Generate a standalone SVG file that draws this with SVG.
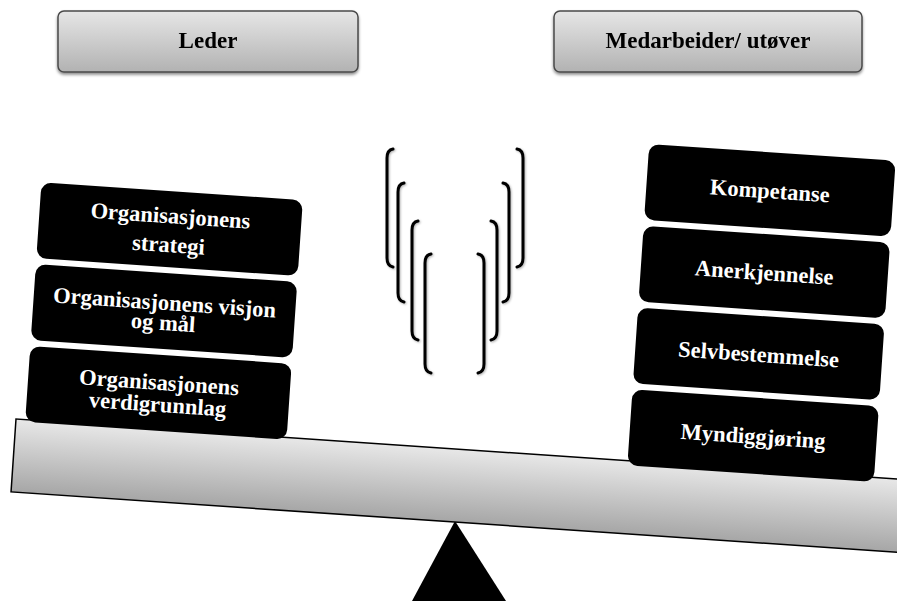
<svg xmlns="http://www.w3.org/2000/svg" width="897" height="601" viewBox="0 0 897 601">
  <defs>
    <linearGradient id="headGrad" x1="0" y1="0" x2="0" y2="1">
      <stop offset="0" stop-color="#e6e6e6"/>
      <stop offset="1" stop-color="#b2b2b2"/>
    </linearGradient>
    <linearGradient id="beamGrad" x1="0" y1="0" x2="0" y2="1">
      <stop offset="0" stop-color="#e8e8e8"/>
      <stop offset="1" stop-color="#a6a6a6"/>
    </linearGradient>
    <filter id="shadow" x="-10%" y="-20%" width="120%" height="150%">
      <feDropShadow dx="0" dy="2" stdDeviation="1.8" flood-color="#000" flood-opacity="0.45"/>
    </filter>
    <filter id="softShadow" x="-50%" y="-10%" width="200%" height="120%">
      <feDropShadow dx="1" dy="1" stdDeviation="1" flood-color="#000" flood-opacity="0.3"/>
    </filter>
  </defs>
  <style>
    .head { fill: url(#headGrad); stroke: #4a4a4a; stroke-width: 1.5; }
    .headText { font-family: "Liberation Serif", "Times New Roman", serif; font-weight: bold; font-size: 23px; fill: #000; text-anchor: middle; }
    .block { fill: #000; }
    .blockText { font-family: "Liberation Serif", "Times New Roman", serif; font-weight: bold; font-size: 22.5px; fill: #fff; text-anchor: middle; }
    .bracket { fill: none; stroke: #000; stroke-width: 3; stroke-linecap: round; }
  </style>

  <rect width="897" height="601" fill="#fff"/>

  <!-- fulcrum -->
  <polygon id="fulcrum" points="455,521 412,601 506,601" fill="#000"/>

  <!-- tilted beam -->
  <g id="beam" transform="rotate(3.9 16 419)">
    <rect x="16" y="419" width="910" height="73" fill="url(#beamGrad)" stroke="#000" stroke-width="1.5"/>
  </g>

  <!-- headers -->
  <g id="leder" filter="url(#shadow)">
    <rect class="head" x="58" y="11" width="300" height="61" rx="6"/>
    <text class="headText" x="208" y="48">Leder</text>
  </g>
  <g id="medarbeider" filter="url(#shadow)">
    <rect class="head" x="554" y="11" width="308" height="61" rx="6"/>
    <text class="headText" x="708" y="48">Medarbeider/ utøver</text>
  </g>

  <!-- left stack -->
  <g id="leftStack" transform="rotate(3.9 164 311)">
    <g id="strategi">
      <rect class="block" x="33" y="191" width="262" height="76" rx="10"/>
      <text class="blockText" x="164" y="223">Organisasjonens</text>
      <text class="blockText" x="164" y="252">strategi</text>
    </g>
    <g id="visjon">
      <rect class="block" x="33" y="273" width="262" height="76" rx="10"/>
      <text class="blockText" x="164" y="310">Organisasjonens visjon</text>
      <text class="blockText" x="164" y="330">og mål</text>
    </g>
    <g id="verdigrunnlag">
      <rect class="block" x="33" y="355" width="262" height="76" rx="10"/>
      <text class="blockText" x="164" y="390">Organisasjonens</text>
      <text class="blockText" x="164" y="412">verdigrunnlag</text>
    </g>
  </g>

  <!-- right stack -->
  <g id="rightStack" transform="rotate(3.9 761.5 313)">
    <g id="kompetanse">
      <rect class="block" x="638" y="152" width="247" height="76" rx="10"/>
      <text class="blockText" x="761.5" y="198">Kompetanse</text>
    </g>
    <g id="anerkjennelse">
      <rect class="block" x="638" y="234" width="247" height="76" rx="10"/>
      <text class="blockText" x="761.5" y="280">Anerkjennelse</text>
    </g>
    <g id="selvbestemmelse">
      <rect class="block" x="638" y="316" width="247" height="76" rx="10"/>
      <text class="blockText" x="761.5" y="362">Selvbestemmelse</text>
    </g>
    <g id="myndiggjoring">
      <rect class="block" x="638" y="398" width="247" height="76" rx="10"/>
      <text class="blockText" x="761.5" y="444">Myndiggjøring</text>
    </g>
  </g>

  <!-- wobble marks -->
  <g id="connectors" filter="url(#softShadow)">
    <path class="bracket" d="M393,149 Q387,150 387,158 L387,258 Q387,266 393,267"/>
    <path class="bracket" d="M404,183 Q398,184 398,192 L398,293 Q398,301 404,302"/>
    <path class="bracket" d="M418,221 Q412,222 412,230 L412,331 Q412,339 418,340"/>
    <path class="bracket" d="M431,254 Q425,255 425,263 L425,364 Q425,372 431,373"/>
    <path class="bracket" d="M517,149 Q523,150 523,158 L523,258 Q523,266 517,267"/>
    <path class="bracket" d="M503,183 Q509,184 509,192 L509,293 Q509,301 503,302"/>
    <path class="bracket" d="M491,221 Q497,222 497,230 L497,331 Q497,339 491,340"/>
    <path class="bracket" d="M478,254 Q484,255 484,263 L484,364 Q484,372 478,373"/>
  </g>
</svg>
